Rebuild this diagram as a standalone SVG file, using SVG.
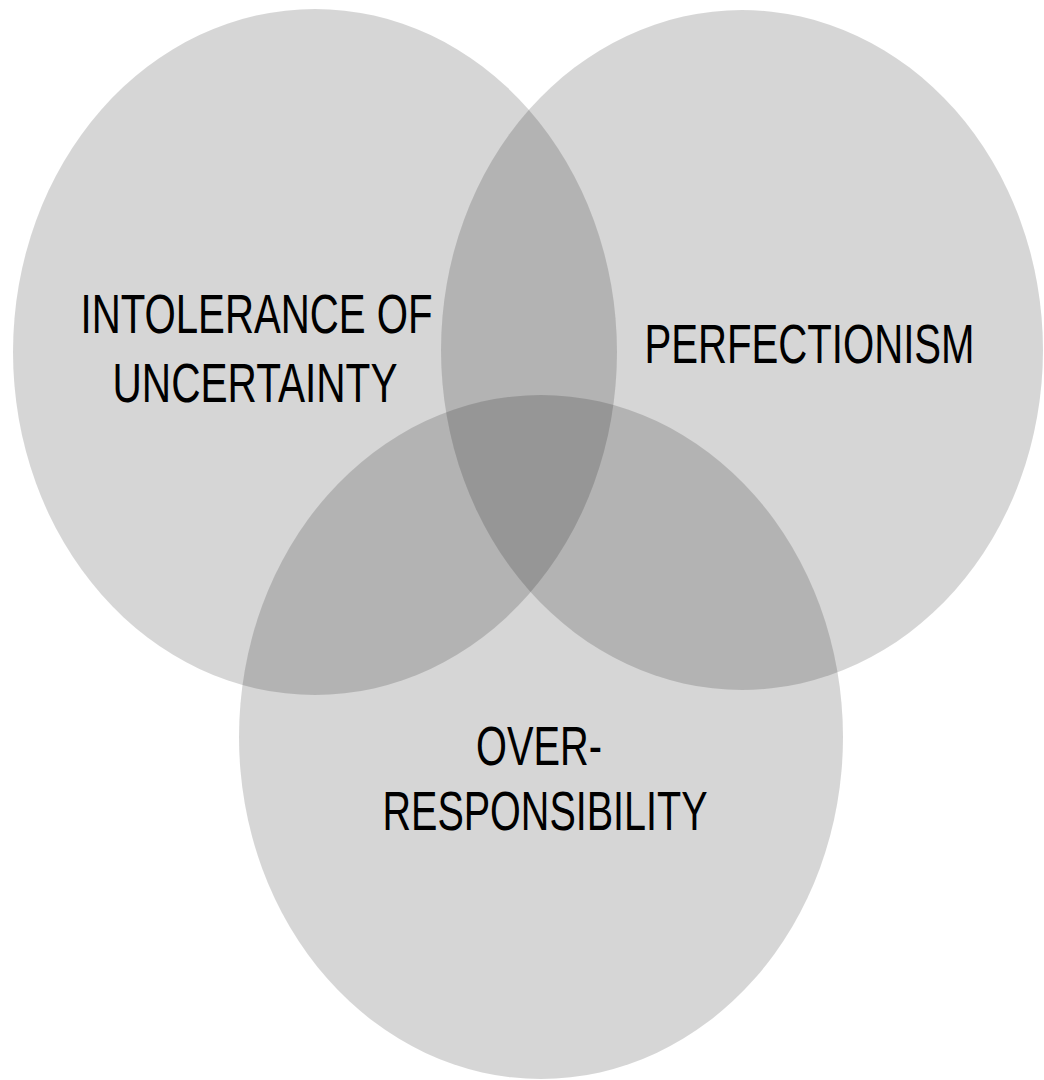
<svg xmlns="http://www.w3.org/2000/svg" width="1044" height="1080" viewBox="0 0 1044 1080">
<style>
.set{fill:#000;fill-opacity:0.16;stroke:none}
.lbl{font-family:"Liberation Sans",Arial,sans-serif;font-size:56px;fill:#000;text-anchor:middle}
</style>
<rect width="1044" height="1080" fill="#fff"/>
<g id="intolerance">
<ellipse class="set" cx="315" cy="352" rx="302" ry="343"/>
<text class="lbl" x="256.5" y="333" textLength="352" lengthAdjust="spacingAndGlyphs">INTOLERANCE OF</text>
<text class="lbl" x="255" y="402" textLength="285" lengthAdjust="spacingAndGlyphs">UNCERTAINTY</text>
</g>
<g id="perfectionism">
<ellipse class="set" cx="742" cy="350" rx="301" ry="340"/>
<text class="lbl" x="809.5" y="363" textLength="330" lengthAdjust="spacingAndGlyphs">PERFECTIONISM</text>
</g>
<g id="overresponsibility">
<ellipse class="set" cx="541" cy="737" rx="302" ry="342"/>
<text class="lbl" x="539" y="765" textLength="126" lengthAdjust="spacingAndGlyphs">OVER-</text>
<text class="lbl" x="545" y="830" textLength="325" lengthAdjust="spacingAndGlyphs">RESPONSIBILITY</text>
</g>
<g id="connectors"/>
</svg>
